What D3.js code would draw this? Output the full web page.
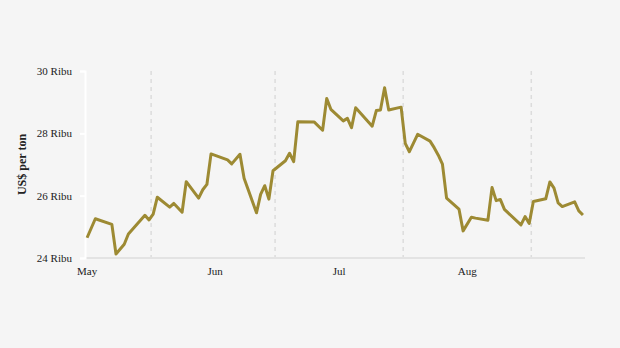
<!DOCTYPE html>
<html>
<head>
<meta charset="utf-8">
<script src="https://cdn.jsdelivr.net/npm/d3@7"></script>
<style>
  body { margin: 0; background: #f5f5f5; }
  svg { display: block; }
  text { font-family: "Liberation Serif", "Times New Roman", serif; fill: #222; }
</style>
</head>
<body>
<svg></svg>
<script>
// tin price, US$ per ton (thousands), trading days 2023
var dates = [
  "2023-05-16", "2023-05-18", "2023-05-22", "2023-05-23", "2023-05-25", "2023-05-26",
  "2023-05-30", "2023-05-31", "2023-06-01", "2023-06-02", "2023-06-05", "2023-06-06",
  "2023-06-08", "2023-06-09", "2023-06-12", "2023-06-13", "2023-06-14", "2023-06-15",
  "2023-06-19", "2023-06-20", "2023-06-22", "2023-06-23", "2023-06-26", "2023-06-27",
  "2023-06-28", "2023-06-29", "2023-06-30", "2023-07-03", "2023-07-04", "2023-07-05",
  "2023-07-06", "2023-07-10", "2023-07-12", "2023-07-13", "2023-07-14", "2023-07-17",
  "2023-07-18", "2023-07-19", "2023-07-20", "2023-07-24", "2023-07-25", "2023-07-26",
  "2023-07-27", "2023-07-28", "2023-07-31", "2023-08-01", "2023-08-02", "2023-08-04",
  "2023-08-07", "2023-08-08", "2023-08-09", "2023-08-10", "2023-08-11", "2023-08-14",
  "2023-08-15", "2023-08-17", "2023-08-18", "2023-08-21", "2023-08-22", "2023-08-23",
  "2023-08-24", "2023-08-25", "2023-08-29", "2023-08-30", "2023-08-31", "2023-09-01",
  "2023-09-04", "2023-09-05", "2023-09-06", "2023-09-07", "2023-09-08", "2023-09-11",
  "2023-09-12", "2023-09-13"
];
var prices = [
  24.65, 25.26, 25.08, 24.13, 24.44, 24.77,
  25.37, 25.22, 25.41, 25.95, 25.63, 25.75,
  25.47, 26.45, 25.92, 26.19, 26.36, 27.34,
  27.15, 27.02, 27.33, 26.56, 25.45, 26.04,
  26.32, 25.89, 26.80, 27.12, 27.36, 27.09,
  28.37, 28.36, 28.10, 29.12, 28.77, 28.40,
  28.48, 28.18, 28.82, 28.23, 28.73, 28.75,
  29.46, 28.75, 28.84, 27.68, 27.41, 27.97,
  27.75, 27.54, 27.30, 27.01, 25.92, 25.57,
  24.87, 25.31, 25.28, 25.21, 26.26, 25.84,
  25.88, 25.56, 25.06, 25.33, 25.11, 25.81,
  25.90, 26.44, 26.24, 25.77, 25.65, 25.80,
  25.51, 25.38
];
var yTicks = [24, 26, 28, 30];
var monthLabels = ["May", "Jun", "Jul", "Aug"];
var monthMids = ["2023-05-16", "2023-06-16", "2023-07-16", "2023-08-16"];
var monthStarts = ["2023-06-01", "2023-07-01", "2023-08-01", "2023-09-01"];

var width = 620,
    height = 348;
var plotL = 85, plotR = 585, plotT = 71, plotB = 258;

var parse = d3.utcParse("%Y-%m-%d");
// mark each trading day at its middle
function noon(s) { return d3.utcHour.offset(parse(s), 12); }

var data = dates.map(function (d, i) {
  return { date: noon(d), value: prices[i] };
});

var x = d3.scaleUtc()
  .domain([parse("2023-05-16"), parse("2023-09-14")])
  .range([plotL, plotR]);
var y = d3.scaleLinear().domain([24, 30]).range([plotB, plotT]);

var svg = d3.select("svg").attr("width", width).attr("height", height);

// dashed month gridlines
svg.append("g").selectAll("line")
  .data(monthStarts).enter().append("line")
  .attr("x1", function (d) { return x(parse(d)); })
  .attr("x2", function (d) { return x(parse(d)); })
  .attr("y1", plotT)
  .attr("y2", plotB + 5)
  .attr("stroke", "#dcdcdc")
  .attr("stroke-width", 1.5)
  .attr("stroke-dasharray", "4,4");

// bottom axis line
svg.append("line")
  .attr("x1", plotL).attr("x2", plotR)
  .attr("y1", plotB).attr("y2", plotB)
  .attr("stroke", "#e3e3e3")
  .attr("stroke-width", 2);

// month labels
svg.append("g").selectAll("text")
  .data(monthLabels).enter().append("text")
  .attr("x", function (d, i) { return x(noon(monthMids[i])); })
  .attr("y", plotB + 17)
  .attr("text-anchor", "middle")
  .style("font-size", "11px")
  .text(function (d) { return d; });

// y axis
var yAxis = d3.axisLeft(y)
  .tickValues(yTicks)
  .tickSize(5)
  .tickPadding(8)
  .tickFormat(function (d) { return d + " Ribu"; });

var ga = svg.append("g")
  .attr("transform", "translate(" + plotL + ",0)")
  .call(yAxis);
ga.select(".domain").attr("stroke", "#fff").attr("stroke-width", 2);
ga.selectAll(".tick line").attr("stroke", "#fff").attr("stroke-width", 2);
ga.selectAll(".tick text")
  .style("font-family", "'Liberation Serif', 'Times New Roman', serif")
  .style("font-size", "11px")
  .attr("fill", "#222");

svg.append("text")
  .attr("transform", "translate(26," + ((plotT + plotB) / 2) + ") rotate(-90)")
  .attr("text-anchor", "middle")
  .style("font-size", "12px")
  .style("font-weight", "bold")
  .text("US$ per ton");

// price line
var line = d3.line()
  .x(function (d) { return x(d.date); })
  .y(function (d) { return y(d.value); });

svg.append("path")
  .datum(data)
  .attr("d", line)
  .attr("fill", "none")
  .attr("stroke", "#9d8a33")
  .attr("stroke-width", 3)
  .attr("stroke-linejoin", "round");
</script>
</body>
</html>
